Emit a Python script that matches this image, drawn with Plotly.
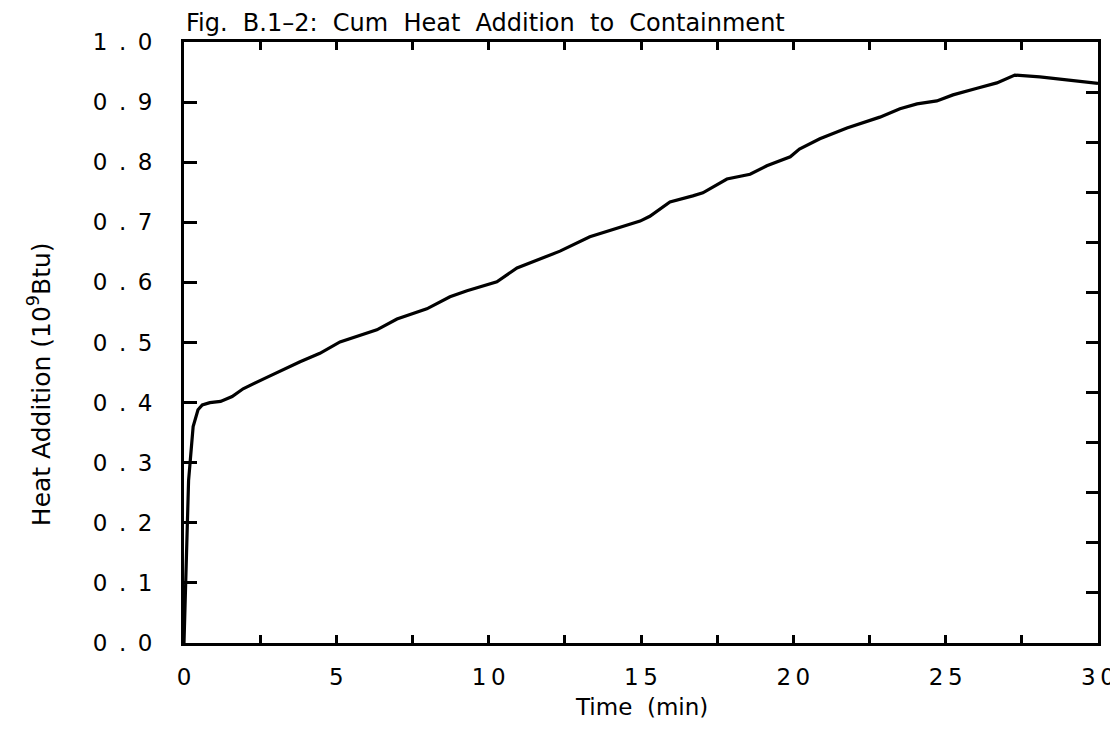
import plotly.graph_objects as go

# Data
time_min = [0.0, 0.03, 0.06, 0.1, 0.15, 0.2, 0.3, 0.46, 0.6, 0.85, 1.2, 1.58, 1.94,
            2.72, 3.81, 4.46, 5.12, 6.33, 6.99, 7.97, 8.73, 9.29, 10.27, 10.93,
            11.45, 12.34, 13.32, 14.97, 15.29, 15.95, 16.7, 17.03, 17.82, 18.58,
            19.13, 19.9, 20.2, 20.87, 21.76, 22.84, 23.5, 24.06, 24.71, 25.24,
            26.03, 26.68, 27.27, 27.67, 28.09, 30.0]
heat_add = [0.0, 0.06, 0.12, 0.22, 0.27, 0.30, 0.36, 0.388, 0.396, 0.400, 0.402,
            0.410, 0.423, 0.442, 0.468, 0.482, 0.501, 0.521, 0.539, 0.556, 0.576,
            0.586, 0.601, 0.624, 0.634, 0.652, 0.676, 0.702, 0.710, 0.734, 0.744,
            0.749, 0.772, 0.780, 0.794, 0.809, 0.822, 0.839, 0.857, 0.875, 0.889,
            0.897, 0.902, 0.912, 0.923, 0.932, 0.945, 0.943, 0.942, 0.931]

x_tick_vals = [0, 5, 10, 15, 20, 25, 30]
x_tick_text = ["0", "5", "1\u20090", "1\u20095", "2\u20090", "2\u20095", "3\u20090"]
y_tick_vals = [0.0, 0.1, 0.2, 0.3, 0.4, 0.5, 0.6, 0.7, 0.8, 0.9, 1.0]
y_tick_text = ["0\u2002.\u2002" + s for s in ["0", "1", "2", "3", "4", "5", "6", "7", "8", "9"]] + ["1\u2002.\u20020"]
right_tick_vals = [k / 12 for k in range(1, 12)]

title_text = "Fig.\u00a0\u00a0B.1\u20132:\u00a0\u00a0Cum\u00a0\u00a0Heat\u00a0\u00a0Addition\u00a0\u00a0to\u00a0\u00a0Containment"
x_title = "Time\u00a0\u00a0(min)"
y_title = "Heat Addition (10<sup>9</sup>Btu)"

base_font = "DejaVu Sans, Verdana, sans-serif"
tick_font = dict(family=base_font, size=23, color="black")

fig = go.Figure()
fig.add_trace(go.Scatter(x=time_min, y=heat_add, mode="lines",
                         line=dict(color="black", width=3.2), hoverinfo="skip",
                         showlegend=False))
# invisible trace to activate the right-hand tick axis
fig.add_trace(go.Scatter(x=time_min, y=heat_add, mode="lines", yaxis="y2",
                         line=dict(color="rgba(0,0,0,0)", width=0), hoverinfo="skip",
                         showlegend=False))

# the page body adds an 8 px margin, so the figure is sized to fit inside the window
fig.update_layout(
    width=1110, height=715,
    margin=dict(l=176, r=20, t=34, b=80, autoexpand=False),
    paper_bgcolor="white", plot_bgcolor="white",
    xaxis=dict(range=[0, 30], tickmode="array", tickvals=x_tick_vals, ticktext=x_tick_text,
               ticks="inside", ticklen=8, tickwidth=2.5, tickcolor="black",
               minor=dict(tickmode="linear", tick0=0, dtick=2.5, ticks="inside",
                          ticklen=8, tickwidth=2.5, tickcolor="black", showgrid=False),
               showline=True, linecolor="black", linewidth=3, mirror="ticks",
               showgrid=False, zeroline=False, tickfont=tick_font,
               ticklabelstandoff=11, ticklabeloverflow="allow", automargin=False),
    yaxis=dict(range=[0, 1], tickmode="array", tickvals=y_tick_vals, ticktext=y_tick_text,
               ticks="inside", ticklen=13, tickwidth=2.5, tickcolor="black",
               showline=True, linecolor="black", linewidth=3, mirror=True,
               showgrid=False, zeroline=False, tickfont=tick_font,
               ticklabelstandoff=24, ticklabeloverflow="allow", automargin=False),
    yaxis2=dict(range=[0, 1], overlaying="y", side="right", tickmode="array",
                tickvals=right_tick_vals,
                ticks="inside", ticklen=12, tickwidth=3, tickcolor="black",
                showticklabels=False, showline=False, showgrid=False, zeroline=False,
                automargin=False),
    annotations=[
        dict(text=title_text, xref="paper", yref="paper", x=0, y=1, xanchor="left",
             yanchor="bottom", yshift=3, showarrow=False,
             font=dict(family=base_font, size=24, color="black")),
        dict(text=x_title, xref="paper", yref="paper", x=0.5, y=-0.107, xanchor="center",
             yanchor="middle", showarrow=False,
             font=dict(family=base_font, size=23, color="black")),
        dict(text=y_title, xref="paper", yref="paper", x=-0.158, y=0.43, xanchor="center",
             yanchor="middle", textangle=-90, showarrow=False,
             font=dict(family=base_font, size=25, color="black")),
    ],
)

fig.write_html("out.html")
